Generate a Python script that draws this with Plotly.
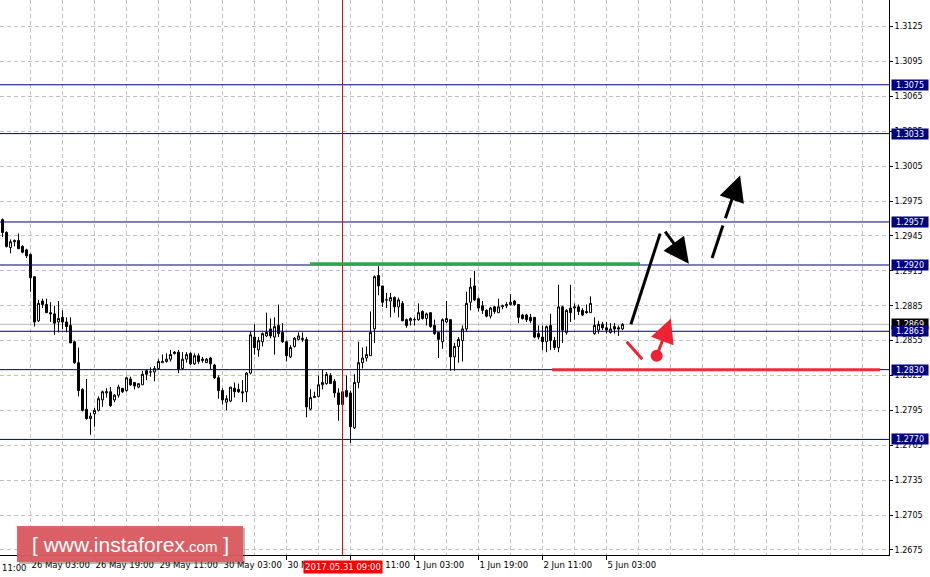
import plotly.graph_objects as go

# ---------------- data (H1 bars, index 0 = 25 May 20:00) ----------------
opens = [1.2959, 1.2948, 1.2935, 1.2940, 1.2941, 1.2936, 1.2933, 1.2929, 1.2910, 1.2872,
         1.2889, 1.2886, 1.2879, 1.2878, 1.2871, 1.2875, 1.2871, 1.2868, 1.2854, 1.2836,
         1.2813, 1.2796, 1.2788, 1.2792, 1.2795, 1.2804, 1.2810, 1.2811, 1.2804, 1.2808,
         1.2814, 1.2812, 1.2822, 1.2819, 1.2815, 1.2817, 1.2829, 1.2828, 1.2828, 1.2831,
         1.2836, 1.2837, 1.2839, 1.2845, 1.2845, 1.2831, 1.2839, 1.2844, 1.2835, 1.2842,
         1.2839, 1.2836, 1.2840, 1.2834, 1.2823, 1.2812, 1.2802, 1.2803, 1.2814, 1.2813,
         1.2811, 1.2811, 1.2827, 1.2858, 1.2847, 1.2854, 1.2859, 1.2865, 1.2858, 1.2868,
         1.2862, 1.2854, 1.2841, 1.2850, 1.2856, 1.2857, 1.2856, 1.2796, 1.2806, 1.2807,
         1.2817, 1.2818, 1.2825, 1.2820, 1.2810, 1.2800, 1.2812, 1.2810, 1.2780, 1.2819,
         1.2836, 1.2840, 1.2842, 1.2865, 1.2911, 1.2902, 1.2890, 1.2889, 1.2892, 1.2884,
         1.2887, 1.2873, 1.2872, 1.2873, 1.2873, 1.2880, 1.2874, 1.2879, 1.2868, 1.2862,
         1.2854, 1.2871, 1.2873, 1.2841, 1.2850, 1.2855, 1.2865, 1.2888, 1.2902, 1.2891,
         1.2885, 1.2881, 1.2876, 1.2884, 1.2879, 1.2884, 1.2885, 1.2886, 1.2889, 1.2886,
         1.2877, 1.2877, 1.2875, 1.2875, 1.2861, 1.2858, 1.2854, 1.2868, 1.2855, 1.2849,
         1.2884, 1.2862, 1.2883, 1.2883, 1.2884, 1.2881, 1.2880, 1.2879, 1.2861, 1.2864,
         1.2869, 1.2866, 1.2862, 1.2867, 1.2866, 1.2865]
highs = [1.2960, 1.2949, 1.2942, 1.2942, 1.2947, 1.2937, 1.2934, 1.2930, 1.2910, 1.2890,
         1.2891, 1.2891, 1.2888, 1.2885, 1.2889, 1.2881, 1.2875, 1.2875, 1.2855, 1.2849,
         1.2814, 1.2822, 1.2793, 1.2797, 1.2807, 1.2812, 1.2814, 1.2815, 1.2809, 1.2817,
         1.2814, 1.2824, 1.2824, 1.2819, 1.2818, 1.2829, 1.2830, 1.2832, 1.2833, 1.2839,
         1.2843, 1.2844, 1.2847, 1.2846, 1.2847, 1.2845, 1.2845, 1.2845, 1.2844, 1.2844,
         1.2841, 1.2840, 1.2841, 1.2835, 1.2825, 1.2814, 1.2808, 1.2815, 1.2819, 1.2818,
         1.2821, 1.2828, 1.2863, 1.2869, 1.2858, 1.2862, 1.2879, 1.2874, 1.2875, 1.2886,
         1.2870, 1.2855, 1.2851, 1.2858, 1.2862, 1.2862, 1.2858, 1.2813, 1.2811, 1.2825,
         1.2830, 1.2828, 1.2827, 1.2822, 1.2814, 1.2817, 1.2825, 1.2812, 1.2826, 1.2854,
         1.2849, 1.2850, 1.2880, 1.2911, 1.2919, 1.2902, 1.2896, 1.2896, 1.2893, 1.2892,
         1.2889, 1.2874, 1.2875, 1.2875, 1.2887, 1.2881, 1.2879, 1.2879, 1.2873, 1.2862,
         1.2874, 1.2889, 1.2873, 1.2853, 1.2858, 1.2868, 1.2897, 1.2909, 1.2915, 1.2892,
         1.2889, 1.2882, 1.2884, 1.2885, 1.2891, 1.2886, 1.2888, 1.2895, 1.2890, 1.2886,
         1.2878, 1.2878, 1.2878, 1.2875, 1.2868, 1.2868, 1.2868, 1.2878, 1.2858, 1.2903,
         1.2885, 1.2882, 1.2903, 1.2887, 1.2886, 1.2883, 1.2886, 1.2893, 1.2875, 1.2872,
         1.2871, 1.2871, 1.2870, 1.2870, 1.2868, 1.2870]
lows = [1.2944, 1.2935, 1.2930, 1.2936, 1.2934, 1.2930, 1.2926, 1.2897, 1.2867, 1.2871,
        1.2883, 1.2879, 1.2871, 1.2860, 1.2862, 1.2865, 1.2862, 1.2853, 1.2835, 1.2807,
        1.2794, 1.2787, 1.2774, 1.2781, 1.2794, 1.2798, 1.2806, 1.2798, 1.2802, 1.2806,
        1.2810, 1.2811, 1.2816, 1.2813, 1.2814, 1.2817, 1.2821, 1.2824, 1.2820, 1.2830,
        1.2836, 1.2836, 1.2837, 1.2843, 1.2827, 1.2830, 1.2836, 1.2834, 1.2834, 1.2835,
        1.2836, 1.2836, 1.2830, 1.2822, 1.2805, 1.2800, 1.2795, 1.2802, 1.2806, 1.2810,
        1.2802, 1.2802, 1.2826, 1.2843, 1.2841, 1.2850, 1.2858, 1.2857, 1.2843, 1.2858,
        1.2853, 1.2837, 1.2840, 1.2849, 1.2855, 1.2854, 1.2789, 1.2795, 1.2806, 1.2806,
        1.2813, 1.2817, 1.2818, 1.2806, 1.2786, 1.2799, 1.2806, 1.2767, 1.2779, 1.2814,
        1.2831, 1.2837, 1.2842, 1.2853, 1.2894, 1.2884, 1.2883, 1.2875, 1.2879, 1.2875,
        1.2872, 1.2866, 1.2868, 1.2868, 1.2872, 1.2873, 1.2868, 1.2866, 1.2860, 1.2840,
        1.2848, 1.2870, 1.2829, 1.2829, 1.2836, 1.2837, 1.2863, 1.2881, 1.2889, 1.2880,
        1.2878, 1.2875, 1.2874, 1.2878, 1.2879, 1.2882, 1.2883, 1.2885, 1.2885, 1.2870,
        1.2873, 1.2871, 1.2870, 1.2857, 1.2856, 1.2847, 1.2845, 1.2847, 1.2847, 1.2845,
        1.2853, 1.2860, 1.2871, 1.2873, 1.2877, 1.2876, 1.2878, 1.2879, 1.2860, 1.2861,
        1.2864, 1.2861, 1.2861, 1.2861, 1.2859, 1.2864]
closes = [1.2948, 1.2936, 1.2940, 1.2941, 1.2934, 1.2931, 1.2928, 1.2909, 1.2871, 1.2887,
          1.2886, 1.2879, 1.2878, 1.2870, 1.2874, 1.2871, 1.2867, 1.2853, 1.2836, 1.2812,
          1.2795, 1.2788, 1.2790, 1.2795, 1.2805, 1.2811, 1.2811, 1.2799, 1.2808, 1.2815,
          1.2811, 1.2823, 1.2817, 1.2816, 1.2818, 1.2826, 1.2826, 1.2828, 1.2831, 1.2837,
          1.2837, 1.2839, 1.2843, 1.2844, 1.2830, 1.2839, 1.2843, 1.2835, 1.2842, 1.2837,
          1.2838, 1.2839, 1.2835, 1.2823, 1.2812, 1.2804, 1.2805, 1.2815, 1.2811, 1.2811,
          1.2810, 1.2827, 1.2860, 1.2849, 1.2855, 1.2861, 1.2862, 1.2859, 1.2867, 1.2861,
          1.2854, 1.2842, 1.2849, 1.2857, 1.2859, 1.2856, 1.2798, 1.2806, 1.2807, 1.2817,
          1.2819, 1.2826, 1.2818, 1.2810, 1.2800, 1.2811, 1.2807, 1.2781, 1.2819, 1.2836,
          1.2840, 1.2843, 1.2862, 1.2910, 1.2902, 1.2888, 1.2890, 1.2892, 1.2884, 1.2890,
          1.2872, 1.2868, 1.2874, 1.2873, 1.2879, 1.2874, 1.2878, 1.2867, 1.2861, 1.2856,
          1.2873, 1.2874, 1.2841, 1.2850, 1.2856, 1.2865, 1.2887, 1.2901, 1.2890, 1.2883,
          1.2881, 1.2876, 1.2883, 1.2880, 1.2884, 1.2885, 1.2886, 1.2888, 1.2886, 1.2875,
          1.2874, 1.2873, 1.2872, 1.2858, 1.2858, 1.2854, 1.2867, 1.2855, 1.2849, 1.2884,
          1.2864, 1.2881, 1.2879, 1.2884, 1.2880, 1.2877, 1.2879, 1.2887, 1.2868, 1.2869,
          1.2866, 1.2864, 1.2865, 1.2865, 1.2865, 1.2869]
bar_idx = list(range(len(opens)))

# time axis labels (bar index -> label)
time_tick_idx = [7, 23, 39, 55, 71, 87, 103, 119, 135, 151]
time_tick_text = ["26 May 03:00", "26 May 19:00", "29 May 11:00", "30 May 03:00",
                  "30 May 19:00", "31 May 11:00", "1 Jun 03:00", "1 Jun 19:00",
                  "2 Jun 11:00", "5 Jun 03:00"]
clipped_left_label = "11:00"
grid_idx = list(range(7, 222, 8))

# price axis
price_ticks = [1.2675, 1.2705, 1.2735, 1.2765, 1.2795, 1.2825, 1.2855, 1.2885,
               1.2915, 1.2945, 1.2975, 1.3005, 1.3035, 1.3065, 1.3095, 1.3125]
level_prices = [1.3075, 1.3033, 1.2957, 1.2920, 1.2863, 1.2830, 1.2770]
last_price = closes[-1]

cursor_idx = 85
cursor_label = "2017.05.31 09:00"

# drawn objects (bar index, price)
green_x = [76.9, 159.4]
green_y = [1.2921, 1.2921]
red_x = [137.4, 219.4]
red_y = [1.2830, 1.2830]
up_leg_x = [157.1, 164.4]
up_leg_y = [1.2869, 1.2947]
down_arrow_x = [165.4, 171.6]
down_arrow_y = [1.2950, 1.2921]
dash_a_x = [177.4, 180.1]
dash_a_y = [1.2926, 1.2954]
dash_b_x = [180.6, 184.4]
dash_b_y = [1.2959, 1.2997]
red_seg_x = [156.05, 159.95]
red_seg_y = [1.2854, 1.2839]
red_dot_x = [163.55]
red_dot_y = [1.2842]
red_arrow_x = [163.55, 167.1]
red_arrow_y = [1.2842, 1.2874]

# ---------------- figure ----------------
PLOT_W, PLOT_H = 889, 555
FONT = "DejaVu Sans"
NAVY = "#000080"
GRID = "#c0c0c0"

fig = go.Figure()
fig.add_trace(go.Candlestick(
    x=bar_idx, open=opens, high=highs, low=lows, close=closes,
    increasing=dict(line=dict(color="black", width=1), fillcolor="white"),
    decreasing=dict(line=dict(color="black", width=1), fillcolor="black"),
    whiskerwidth=0, hoverinfo="skip", showlegend=False,
))
fig.add_trace(go.Scatter(
    x=red_dot_x, y=red_dot_y, mode="markers",
    marker=dict(size=12, color="#ee2233", line=dict(width=0)),
    hoverinfo="skip", showlegend=False,
))

shapes = []
# current price (bid) line
shapes.append(dict(type="line", xref="paper", x0=0, x1=1, yref="y",
                   y0=last_price, y1=last_price,
                   line=dict(color="#b8b8b8", width=1), layer="between"))
# support / resistance levels
for p in level_prices:
    shapes.append(dict(type="line", xref="paper", x0=0, x1=1, yref="y", y0=p, y1=p,
                       line=dict(color=NAVY, width=1), layer="above"))
# cursor line
shapes.append(dict(type="line", xref="x", x0=cursor_idx, x1=cursor_idx, yref="paper",
                   y0=0, y1=1, line=dict(color="#ff0000", width=1), layer="above"))
# green and red thick lines
shapes.append(dict(type="line", xref="x", yref="y", x0=green_x[0], x1=green_x[1],
                   y0=green_y[0], y1=green_y[1], line=dict(color="#2ca84a", width=3)))
shapes.append(dict(type="line", xref="x", yref="y", x0=red_x[0], x1=red_x[1],
                   y0=red_y[0], y1=red_y[1], line=dict(color="#e8303c", width=3)))
# black up leg, dashed part, red segment
shapes.append(dict(type="line", xref="x", yref="y", x0=up_leg_x[0], x1=up_leg_x[1],
                   y0=up_leg_y[0], y1=up_leg_y[1], line=dict(color="black", width=3)))
shapes.append(dict(type="line", xref="x", yref="y", x0=dash_a_x[0], x1=dash_a_x[1],
                   y0=dash_a_y[0], y1=dash_a_y[1], line=dict(color="black", width=3)))
shapes.append(dict(type="line", xref="x", yref="y", x0=red_seg_x[0], x1=red_seg_x[1],
                   y0=red_seg_y[0], y1=red_seg_y[1], line=dict(color="#ee2233", width=3)))
# watermark box (pixel based in paper units)
wx0, wx1, wy0, wy1 = 17, 243, 526, 562
shapes.append(dict(type="rect", xref="paper", yref="paper",
                   x0=(wx0 + 2) / PLOT_W, x1=(wx1 + 2) / PLOT_W,
                   y0=1 - (wy1 + 2) / PLOT_H, y1=1 - (wy0 + 2) / PLOT_H,
                   fillcolor="rgba(90,30,30,0.35)", line=dict(width=0), layer="above"))
shapes.append(dict(type="rect", xref="paper", yref="paper",
                   x0=wx0 / PLOT_W, x1=wx1 / PLOT_W,
                   y0=1 - wy1 / PLOT_H, y1=1 - wy0 / PLOT_H,
                   fillcolor="#dc5c62", opacity=0.95, line=dict(width=0), layer="above"))

annotations = []
# arrows with heads
def arrow(xs, ys, color, size):
    return dict(x=xs[1], y=ys[1], ax=xs[0], ay=ys[0], xref="x", yref="y",
                axref="x", ayref="y", text="", showarrow=True, arrowhead=2,
                arrowsize=size, arrowwidth=3, arrowcolor=color, standoff=0)
annotations.append(arrow(down_arrow_x, down_arrow_y, "black", 1.7))
annotations.append(arrow(dash_b_x, dash_b_y, "black", 1.7))
annotations.append(arrow(red_arrow_x, red_arrow_y, "#ee2233", 1.6))

# price boxes on the right axis
annotations.append(dict(xref="paper", x=1, xanchor="left", xshift=2, yref="y",
                        y=last_price, text=f"{last_price:.4f}", showarrow=False,
                        font=dict(family=FONT, size=8, color="white"),
                        bgcolor="black", width=36, height=10, borderpad=0))
for p in level_prices:
    annotations.append(dict(xref="paper", x=1, xanchor="left", xshift=2, yref="y",
                            y=p, text=f"{p:.4f}", showarrow=False,
                            font=dict(family=FONT, size=8, color="white"),
                            bgcolor=NAVY, width=36, height=10, borderpad=0))
# cursor time box
annotations.append(dict(xref="x", x=cursor_idx, yref="paper", y=0, yanchor="top",
                        yshift=-5, text=cursor_label, showarrow=False,
                        font=dict(family=FONT, size=8.5, color="white"),
                        bgcolor="#ff0000", width=78, height=12, borderpad=0))
# clipped first time label
annotations.append(dict(xref="paper", x=0, xanchor="left", yref="paper", y=0,
                        yanchor="top", yshift=-6, text=clipped_left_label,
                        showarrow=False, font=dict(family=FONT, size=8.5, color="black")))
# watermark text
annotations.append(dict(xref="paper", yref="paper",
                        x=(wx0 + wx1) / 2 / PLOT_W, y=1 - (wy0 + wy1) / 2 / PLOT_H,
                        text="[ www.instaforex<span style='font-size:15px'>.com</span> ]",
                        showarrow=False, xanchor="center", yanchor="middle",
                        font=dict(family="Liberation Sans", size=21, color="white")))

fig.update_layout(
    width=930, height=577,
    margin=dict(l=0, r=41, t=0, b=22, autoexpand=False),
    paper_bgcolor="white", plot_bgcolor="white",
    showlegend=False, boxgap=0.3,
    shapes=shapes, annotations=annotations,
    font=dict(family=FONT, size=8, color="black"),
    xaxis=dict(
        range=[-0.625, -0.625 + PLOT_W / 4], rangeslider=dict(visible=False),
        tickmode="array", tickvals=time_tick_idx, ticktext=time_tick_text,
        ticks="outside", ticklen=4, tickcolor="black", tickwidth=1, tickangle=0,
        ticklabelposition="outside right", ticklabelstandoff=2, automargin=False,
        tickfont=dict(family=FONT, size=8.5, color="black"),
        showgrid=True, gridcolor=GRID, griddash="4px,3px", gridwidth=1,
        minor=dict(tickmode="array", tickvals=grid_idx, showgrid=True,
                   gridcolor=GRID, griddash="4px,3px", gridwidth=1, ticks=""),
        showline=True, linecolor="black", linewidth=1, zeroline=False,
        fixedrange=True,
    ),
    yaxis=dict(
        side="right", range=[1.26706, 1.31479], automargin=False,
        tickmode="array", tickvals=price_ticks, tickformat=".4f",
        ticks="outside", ticklen=3, tickcolor="black",
        tickfont=dict(family=FONT, size=8, color="black"),
        showgrid=True, gridcolor=GRID, griddash="4px,3px", gridwidth=1,
        showline=True, linecolor="black", linewidth=1, zeroline=False,
        fixedrange=True,
    ),
)

fig.write_html("out.html", config=dict(displayModeBar=False),
               post_script="document.body.style.margin='0';document.body.style.overflow='hidden';")
